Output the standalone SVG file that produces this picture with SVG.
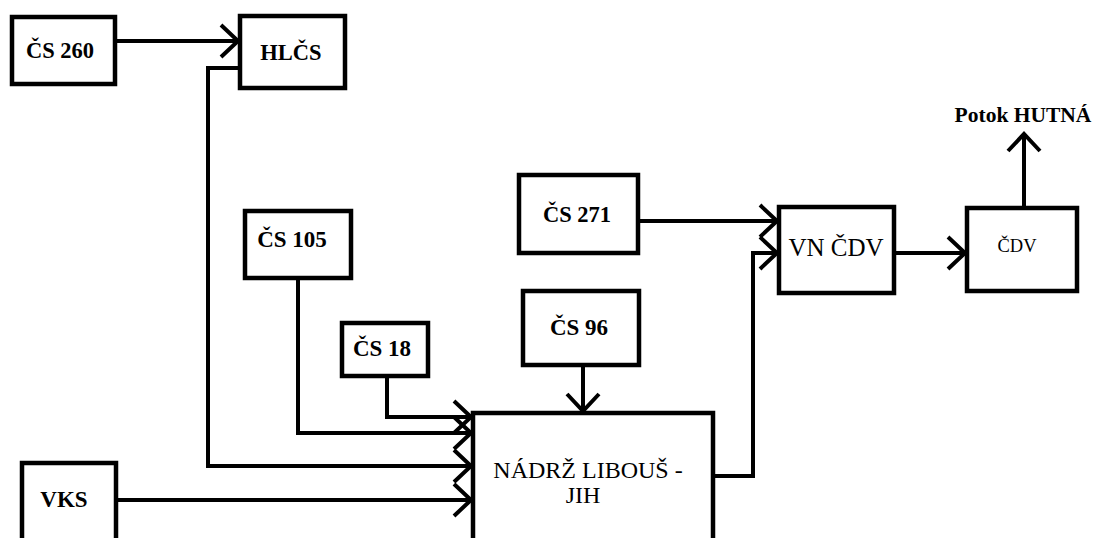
<svg xmlns="http://www.w3.org/2000/svg" width="1103" height="538" viewBox="0 0 1103 538">
<style>
.box{fill:#fff;stroke:#000;stroke-width:4.5}
.ln{fill:none;stroke:#000;stroke-width:4;marker-end:url(#ah)}
</style>
<defs>
<marker id="ah" markerUnits="userSpaceOnUse" markerWidth="40" markerHeight="40" viewBox="-20 -20 40 40" refX="0" refY="0" orient="auto">
<path d="M -17 -16 L 0 0 L -17 16" fill="none" stroke="#000" stroke-width="4"/>
</marker>
</defs>
<rect width="1103" height="538" fill="#fff"/>
<g id="connectors">
<path class="ln" d="M 116 41 L 238 41"/>
<path class="ln" d="M 240 68 L 208 68 L 208 466 L 471 466"/>
<path class="ln" d="M 298 278 L 298 433 L 471 433"/>
<path class="ln" d="M 387 376 L 387 417 L 471 417"/>
<path class="ln" d="M 116 500 L 471 500"/>
<path class="ln" d="M 583 365 L 583 411"/>
<path class="ln" d="M 638 221 L 777 221"/>
<path class="ln" d="M 713 476 L 753 476 L 753 253 L 777 253"/>
<path class="ln" d="M 894 253 L 965 253"/>
<path class="ln" d="M 1024 208 L 1024 134"/>
</g>
<g font-family="Liberation Serif, DejaVu Serif, serif" text-anchor="middle" fill="#000">
<g id="cs260"><rect class="box" x="12" y="17" width="103" height="67"/><text font-weight="bold" x="60" y="58" font-size="22.5">ČS 260</text></g>
<g id="hlcs"><rect class="box" x="240" y="16" width="105" height="72"/><text font-weight="bold" x="291" y="60" font-size="22.5">HLČS</text></g>
<g id="cs105"><rect class="box" x="245" y="211" width="106" height="67"/><text font-weight="bold" x="292" y="247" font-size="23">ČS 105</text></g>
<g id="cs18"><rect class="box" x="342" y="323" width="86" height="53"/><text font-weight="bold" x="382" y="356" font-size="23">ČS 18</text></g>
<g id="cs96"><rect class="box" x="523" y="291" width="116" height="74"/><text font-weight="bold" x="579" y="335" font-size="23">ČS 96</text></g>
<g id="cs271"><rect class="box" x="519" y="175" width="119" height="78"/><text font-weight="bold" x="577" y="222" font-size="22.5">ČS 271</text></g>
<g id="nadrz"><rect class="box" x="473" y="413" width="240" height="150"/><text x="588" y="478" font-size="24">NÁDRŽ LIBOUŠ -</text><text x="583" y="503" font-size="24">JIH</text></g>
<g id="vks"><rect class="box" x="22" y="463" width="94" height="100"/><text font-weight="bold" x="64" y="507" font-size="23">VKS</text></g>
<g id="vncdv"><rect class="box" x="779" y="207" width="115" height="86"/><text x="836" y="256" font-size="25">VN ČDV</text></g>
<g id="cdv"><rect class="box" x="967" y="208" width="110" height="83"/><text x="1017" y="252" font-size="18.5">ČDV</text></g>
<g id="potok"><text font-weight="bold" x="1023" y="122" font-size="21.5">Potok HUTNÁ</text></g>
</g>
</svg>
